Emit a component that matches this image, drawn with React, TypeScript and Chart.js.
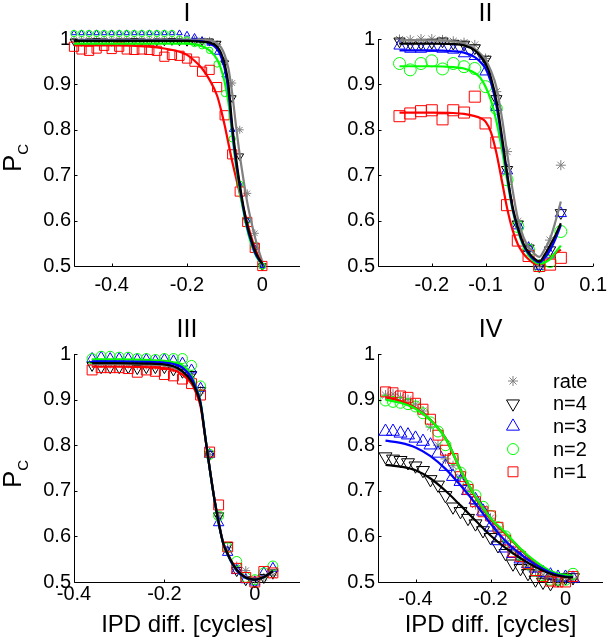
import React, { useEffect, useRef } from 'react';
import { Chart, registerables } from 'chart.js';
import { drawPoint } from 'chart.js/helpers';

Chart.register(...registerables);

const FONT = '"Liberation Sans", Arial, Helvetica, sans-serif';

// ---- series names / colours ----
const SERIES_NAMES = ['rate', 'n=4', 'n=3', 'n=2', 'n=1'];
const COLORS = ['rgb(128,128,128)', '#000000', '#0000ff', '#00ff00', '#ff0000'];
const Y_TICKS = [0.5, 0.6, 0.7, 0.8, 0.9, 1];
const X_LABEL = 'IPD diff. [cycles]';

// ---- Panel I ----
const P1_X = [-0.5, -0.48, -0.46, -0.44, -0.42, -0.4, -0.38, -0.36, -0.34, -0.32, -0.3, -0.28, -0.26, -0.24, -0.22, -0.2, -0.18, -0.16, -0.14, -0.12, -0.1, -0.08, -0.06, -0.04, -0.02, 0];
const P1_RATE = [0.998, 0.998, 0.998, 0.998, 0.998, 0.998, 0.998, 0.998, 0.998, 0.998, 0.998, 0.998, 0.998, 0.998, 0.998, 0.998, 0.998, 0.997, 0.996, 0.988, 0.95, 0.903, 0.8, 0.66, 0.572, 0.5];
const P1_N4 = [0.995, 0.994, 0.995, 0.996, 0.995, 0.994, 0.995, 0.995, 0.996, 0.995, 0.994, 0.995, 0.995, 0.996, 0.995, 0.994, 0.995, 0.995, 0.995, 0.99, 0.947, 0.87, 0.742, 0.6, 0.545, 0.5];
const P1_N3 = [1.013, 1.013, 1.013, 1.013, 1.013, 1.013, 1.013, 1.013, 1.013, 1.013, 1.013, 1.013, 1.013, 1.013, 1.013, 1.01, 1.005, 0.998, 0.99, 0.97, 0.92, 0.8, 0.68, 0.6, 0.54, 0.5];
const P1_N2 = [1.012, 1.012, 1.012, 1.012, 1.012, 1.012, 1.012, 1.012, 1.012, 1.012, 1.012, 1.012, 1.012, 1.012, 1.0, 0.998, 0.99, 0.985, 0.975, 0.945, 0.88, 0.78, 0.68, 0.6, 0.545, 0.5];
const P1_N1 = [0.983, 0.977, 0.974, 0.979, 0.985, 0.978, 0.983, 0.977, 0.976, 0.977, 0.976, 0.974, 0.961, 0.965, 0.963, 0.957, 0.95, 0.928, 0.932, 0.894, 0.832, 0.746, 0.664, 0.597, 0.54, 0.5];
const P1_LX = [-0.5, -0.4, -0.3, -0.26, -0.22, -0.2, -0.18, -0.16, -0.14, -0.12, -0.11, -0.1, -0.09, -0.08, -0.07, -0.06, -0.05, -0.04, -0.03, -0.02, -0.01, 0];
const P1_L_RATE = [0.998, 0.998, 0.998, 0.998, 0.998, 0.998, 0.998, 0.998, 0.997, 0.99, 0.982, 0.965, 0.935, 0.88, 0.81, 0.745, 0.69, 0.64, 0.6, 0.565, 0.535, 0.51];
const P1_L_N4 = [0.996, 0.996, 0.996, 0.996, 0.996, 0.996, 0.995, 0.994, 0.992, 0.983, 0.97, 0.945, 0.9, 0.81, 0.74, 0.68, 0.63, 0.59, 0.56, 0.535, 0.517, 0.505];
const P1_L_N3 = [0.996, 0.996, 0.996, 0.996, 0.996, 0.996, 0.996, 0.995, 0.99, 0.978, 0.962, 0.935, 0.885, 0.8, 0.73, 0.675, 0.625, 0.585, 0.555, 0.53, 0.515, 0.505];
const P1_L_N2 = [0.99, 0.99, 0.99, 0.99, 0.99, 0.99, 0.988, 0.984, 0.975, 0.955, 0.935, 0.905, 0.86, 0.79, 0.72, 0.665, 0.62, 0.58, 0.55, 0.528, 0.513, 0.505];
const P1_L_N1 = [0.986, 0.986, 0.983, 0.979, 0.972, 0.965, 0.952, 0.935, 0.91, 0.875, 0.845, 0.81, 0.77, 0.73, 0.695, 0.66, 0.627, 0.595, 0.566, 0.54, 0.52, 0.505];
const P1_XTICKS = [-0.4, -0.2, 0];

// ---- Panel II ----
const P2_X = [-0.26, -0.24, -0.22, -0.2, -0.18, -0.16, -0.14, -0.12, -0.1, -0.08, -0.06, -0.04, -0.02, 0, 0.02, 0.04];
const P2_RATE = [0.999, 0.998, 1.0, 1.0, 0.998, 0.995, 0.992, 0.987, 0.957, 0.884, 0.752, 0.598, 0.543, 0.5, 0.557, 0.722];
const P2_N4 = [0.995, 0.99, 0.99, 0.992, 0.995, 0.99, 0.988, 0.98, 0.955, 0.868, 0.712, 0.592, 0.539, 0.5, 0.535, 0.617];
const P2_N3 = [0.985, 0.978, 0.978, 0.98, 0.978, 0.976, 0.968, 0.962, 0.928, 0.85, 0.71, 0.589, 0.539, 0.5, 0.525, 0.616];
const P2_N2 = [0.946, 0.932, 0.946, 0.952, 0.934, 0.946, 0.939, 0.935, 0.895, 0.847, 0.69, 0.587, 0.535, 0.5, 0.51, 0.576];
const P2_N1 = [0.83, 0.836, 0.841, 0.843, 0.823, 0.843, 0.838, 0.873, 0.814, 0.772, 0.634, 0.556, 0.522, 0.5, 0.503, 0.518];
const P2_LX = [-0.26, -0.2, -0.16, -0.14, -0.12, -0.11, -0.1, -0.09, -0.08, -0.07, -0.06, -0.05, -0.04, -0.03, -0.02, -0.01, 0, 0.01, 0.02, 0.03, 0.04];
const P2_L_RATE = [0.997, 0.997, 0.995, 0.99, 0.978, 0.968, 0.954, 0.93, 0.895, 0.83, 0.75, 0.67, 0.605, 0.565, 0.542, 0.528, 0.52, 0.537, 0.56, 0.598, 0.642];
const P2_L_N4 = [0.99, 0.99, 0.989, 0.986, 0.975, 0.963, 0.946, 0.915, 0.865, 0.79, 0.705, 0.632, 0.585, 0.55, 0.53, 0.517, 0.51, 0.525, 0.545, 0.568, 0.594];
const P2_L_N3 = [0.975, 0.975, 0.973, 0.97, 0.96, 0.95, 0.935, 0.905, 0.855, 0.78, 0.7, 0.628, 0.582, 0.548, 0.527, 0.514, 0.508, 0.518, 0.535, 0.56, 0.59];
const P2_L_N2 = [0.94, 0.94, 0.938, 0.935, 0.925, 0.915, 0.895, 0.865, 0.82, 0.76, 0.69, 0.625, 0.578, 0.545, 0.524, 0.51, 0.505, 0.508, 0.515, 0.53, 0.545];
const P2_L_N1 = [0.838, 0.838, 0.837, 0.835, 0.83, 0.826, 0.818, 0.795, 0.75, 0.69, 0.628, 0.58, 0.548, 0.528, 0.515, 0.506, 0.503, 0.508, 0.517, 0.528, 0.536];
const P2_XTICKS = [-0.2, -0.1, 0, 0.1];

// ---- Panel III ----
const P3_X = [-0.36, -0.34, -0.32, -0.3, -0.28, -0.26, -0.24, -0.22, -0.2, -0.18, -0.16, -0.14, -0.12, -0.1, -0.08, -0.06, -0.04, -0.02, 0, 0.02, 0.04];
const P3_RATE = [0.98, 0.98, 0.978, 0.98, 0.978, 0.975, 0.976, 0.975, 0.975, 0.97, 0.965, 0.955, 0.92, 0.78, 0.645, 0.575, 0.535, 0.525, 0.505, 0.51, 0.515];
const P3_N4 = [0.975, 0.97, 0.97, 0.97, 0.97, 0.968, 0.97, 0.97, 0.97, 0.965, 0.96, 0.955, 0.92, 0.78, 0.645, 0.58, 0.525, 0.505, 0.5, 0.51, 0.52];
const P3_N3 = [0.99, 0.993, 0.99, 0.99, 0.99, 0.988, 0.988, 0.985, 0.988, 0.985, 0.98, 0.965, 0.925, 0.78, 0.63, 0.565, 0.525, 0.505, 0.5, 0.52, 0.53];
const P3_N2 = [0.99, 0.995, 0.995, 0.993, 0.993, 0.99, 0.99, 0.988, 0.99, 0.99, 0.99, 0.975, 0.93, 0.78, 0.645, 0.575, 0.545, 0.51, 0.505, 0.52, 0.535];
const P3_N1 = [0.965, 0.97, 0.97, 0.97, 0.968, 0.96, 0.965, 0.962, 0.955, 0.952, 0.945, 0.935, 0.91, 0.785, 0.669, 0.577, 0.53, 0.51, 0.5, 0.523, 0.52];
const P3_LX = [-0.36, -0.3, -0.24, -0.2, -0.18, -0.16, -0.14, -0.13, -0.12, -0.11, -0.1, -0.09, -0.08, -0.07, -0.06, -0.05, -0.04, -0.03, -0.02, -0.01, 0, 0.01, 0.02, 0.03, 0.04];
const P3_L_RATE = [0.978, 0.978, 0.977, 0.975, 0.971, 0.96, 0.94, 0.92, 0.89, 0.82, 0.75, 0.685, 0.63, 0.586, 0.562, 0.542, 0.528, 0.518, 0.511, 0.508, 0.506, 0.508, 0.512, 0.518, 0.525];
const P3_L_N4 = [0.98, 0.98, 0.979, 0.977, 0.973, 0.962, 0.94, 0.92, 0.89, 0.82, 0.75, 0.685, 0.63, 0.585, 0.562, 0.542, 0.527, 0.517, 0.51, 0.507, 0.505, 0.507, 0.511, 0.517, 0.524];
const P3_L_N3 = [0.984, 0.984, 0.983, 0.981, 0.978, 0.97, 0.948, 0.925, 0.893, 0.822, 0.75, 0.685, 0.63, 0.585, 0.56, 0.54, 0.525, 0.515, 0.509, 0.506, 0.505, 0.507, 0.511, 0.517, 0.524];
const P3_L_N2 = [0.988, 0.988, 0.987, 0.985, 0.982, 0.975, 0.952, 0.928, 0.895, 0.823, 0.75, 0.685, 0.63, 0.585, 0.56, 0.54, 0.525, 0.515, 0.509, 0.506, 0.505, 0.507, 0.511, 0.517, 0.524];
const P3_L_N1 = [0.972, 0.972, 0.971, 0.969, 0.965, 0.955, 0.935, 0.915, 0.885, 0.82, 0.752, 0.687, 0.632, 0.587, 0.562, 0.542, 0.527, 0.517, 0.51, 0.507, 0.505, 0.507, 0.511, 0.517, 0.524];
const P3_XTICKS = [-0.4, -0.2, 0];

// ---- Panel IV ----
const P4_X = [-0.48, -0.46, -0.44, -0.42, -0.4, -0.38, -0.36, -0.34, -0.32, -0.3, -0.28, -0.26, -0.24, -0.22, -0.2, -0.18, -0.16, -0.14, -0.12, -0.1, -0.08, -0.06, -0.04, -0.02, 0, 0.02];
const P4_RATE = [0.91, 0.912, 0.905, 0.9, 0.89, 0.875, 0.84, 0.8, 0.77, 0.755, 0.73, 0.7, 0.67, 0.66, 0.64, 0.615, 0.59, 0.57, 0.555, 0.535, 0.525, 0.515, 0.51, 0.505, 0.51, 0.505];
const P4_N4 = [0.775, 0.77, 0.767, 0.762, 0.755, 0.745, 0.725, 0.713, 0.69, 0.665, 0.655, 0.64, 0.628, 0.613, 0.598, 0.58, 0.563, 0.54, 0.53, 0.519, 0.505, 0.5, 0.497, 0.505, 0.51, 0.51];
const P4_N3 = [0.83, 0.83, 0.826, 0.822, 0.815, 0.808, 0.8, 0.782, 0.753, 0.731, 0.72, 0.7, 0.68, 0.655, 0.62, 0.59, 0.574, 0.562, 0.55, 0.54, 0.53, 0.52, 0.515, 0.51, 0.51, 0.508];
const P4_N2 = [0.898, 0.895, 0.893, 0.89, 0.885, 0.87, 0.85, 0.83, 0.8, 0.77, 0.74, 0.71, 0.69, 0.665, 0.645, 0.62, 0.6, 0.575, 0.56, 0.54, 0.525, 0.515, 0.505, 0.505, 0.505, 0.518];
const P4_N1 = [0.917, 0.915, 0.908, 0.905, 0.892, 0.879, 0.857, 0.822, 0.789, 0.771, 0.731, 0.703, 0.676, 0.654, 0.645, 0.62, 0.592, 0.566, 0.556, 0.54, 0.525, 0.512, 0.502, 0.5, 0.5, 0.512];
const P4_LX = [-0.48, -0.44, -0.4, -0.36, -0.32, -0.28, -0.24, -0.2, -0.16, -0.12, -0.08, -0.04, 0, 0.02];
const P4_L_RATE = [0.905, 0.897, 0.882, 0.856, 0.816, 0.748, 0.688, 0.64, 0.606, 0.571, 0.543, 0.523, 0.514, 0.513];
const P4_L_N4 = [0.757, 0.753, 0.745, 0.727, 0.7, 0.668, 0.635, 0.602, 0.575, 0.552, 0.533, 0.518, 0.511, 0.51];
const P4_L_N3 = [0.81, 0.805, 0.795, 0.776, 0.748, 0.712, 0.672, 0.628, 0.59, 0.561, 0.538, 0.521, 0.512, 0.511];
const P4_L_N2 = [0.9, 0.893, 0.88, 0.855, 0.815, 0.746, 0.687, 0.64, 0.608, 0.573, 0.545, 0.524, 0.515, 0.514];
const P4_L_N1 = [0.905, 0.897, 0.882, 0.855, 0.815, 0.745, 0.685, 0.638, 0.606, 0.572, 0.543, 0.523, 0.514, 0.513];
const P4_XTICKS = [-0.4, -0.2, 0];

// ---- styles ----
const POINT_STYLES = ['star', 'triangle', 'triangle', 'circle', 'rect'];
const POINT_ROT = [0, 180, 0, 0, 0];
const LINE_ORDER = [4, 0, 1, 2, 3];

type PanelDef = {
  key: string;
  title: string;
  area: [number, number, number, number]; // left, pixel of y=1, right, bottom
  xMin: number;
  xMax: number;
  xTicks: number[];
  mx: number[];
  markers: number[][];
  lx: number[];
  lines: number[][];
  sizes: number[];
  xPad: number;
  titleY: number;
  yLabelPos: [number, number] | null;
  xLabel: boolean;
  legend: boolean;
};

const PANELS: PanelDef[] = [
  {
    key: 'I', title: 'I', area: [74, 39, 300, 266], xMin: -0.5, xMax: 0.1, xTicks: P1_XTICKS,
    mx: P1_X, markers: [P1_RATE, P1_N4, P1_N3, P1_N2, P1_N1],
    lx: P1_LX, lines: [P1_L_RATE, P1_L_N4, P1_L_N3, P1_L_N2, P1_L_N1],
    sizes: [4, 4.5, 3.2, 3.2, 6.5], xPad: 7, titleY: 21, yLabelPos: [21, 172], xLabel: false, legend: false,
  },
  {
    key: 'II', title: 'II', area: [378, 39, 603, 266], xMin: -0.3, xMax: 0.1, xTicks: P2_XTICKS,
    mx: P2_X, markers: [P2_RATE, P2_N4, P2_N3, P2_N2, P2_N1],
    lx: P2_LX, lines: [P2_L_RATE, P2_L_N4, P2_L_N3, P2_L_N2, P2_L_N1],
    sizes: [5, 6.5, 6.5, 6, 7.8], xPad: 7, titleY: 21, yLabelPos: null, xLabel: false, legend: false,
  },
  {
    key: 'III', title: 'III', area: [74, 354, 300, 582], xMin: -0.4, xMax: 0.1, xTicks: P3_XTICKS,
    mx: P3_X, markers: [P3_RATE, P3_N4, P3_N3, P3_N2, P3_N1],
    lx: P3_LX, lines: [P3_L_RATE, P3_L_N4, P3_L_N3, P3_L_N2, P3_L_N1],
    sizes: [4.5, 6, 6, 5, 7], xPad: 0, titleY: 337, yLabelPos: [21, 488], xLabel: true, legend: false,
  },
  {
    key: 'IV', title: 'IV', area: [378, 354, 603, 582], xMin: -0.5, xMax: 0.1, xTicks: P4_XTICKS,
    mx: P4_X, markers: [P4_RATE, P4_N4, P4_N3, P4_N2, P4_N1],
    lx: P4_LX, lines: [P4_L_RATE, P4_L_N4, P4_L_N3, P4_L_N2, P4_L_N1],
    sizes: [5, 7.5, 7.5, 5.5, 7], xPad: 5, titleY: 337, yLabelPos: null, xLabel: true, legend: true,
  },
];

const W = 614;
const H = 640;
const YW = 60;
const XH = 46;
const Y_MIN = 0.5;
const Y_MAX = 1.03; // a little head-room so markers drawn above 1 are not dropped
const LEGEND_SIZES = [5, 7.5, 7.5, 5.5, 7];

const fmt = (v: number) => String(Math.round(v * 10) / 10);

function Panel({ def }: { def: PanelDef }) {
  const ref = useRef<HTMLCanvasElement>(null);
  useEffect(() => {
    const canvas = ref.current;
    if (!canvas) return;
    const [L, top1, R, B] = def.area;
    // chart-area top so that y = 1 lands on top1
    const T = B - ((B - top1) * (Y_MAX - Y_MIN)) / (1 - Y_MIN);
    const datasets: any[] = [];
    def.lines.forEach((ly, k) => {
      datasets.push({
        label: SERIES_NAMES[k] + ' fit',
        data: def.lx.map((x, i) => ({ x, y: ly[i] })),
        showLine: true,
        pointRadius: 0,
        borderColor: COLORS[k],
        borderWidth: 2.2,
        cubicInterpolationMode: 'monotone',
        fill: false,
        clip: false,
        order: LINE_ORDER[k],
      });
    });
    def.markers.forEach((my, k) => {
      datasets.push({
        label: SERIES_NAMES[k],
        data: def.mx.map((x, i) => ({ x, y: my[i] })),
        showLine: false,
        pointStyle: POINT_STYLES[k],
        pointRotation: POINT_ROT[k],
        pointRadius: def.sizes[k],
        pointBorderColor: COLORS[k],
        pointBackgroundColor: 'rgba(0,0,0,0)',
        pointBorderWidth: 1,
        clip: false,
        order: 14 - k,
      });
    });

    const decor = {
      id: 'decor' + def.key,
      beforeDatasetsDraw(chart: any) {
        const ctx = chart.ctx as CanvasRenderingContext2D;
        const ys = chart.scales.y;
        const ca = chart.chartArea;
        const yTop = Math.round(ys.getPixelForValue(1));
        const xl = Math.round(ca.left) + 0.5;
        const yb = Math.round(ca.bottom) + 0.5;
        ctx.save();
        ctx.strokeStyle = '#000';
        ctx.lineWidth = 1;
        ctx.beginPath();
        ctx.moveTo(xl, yTop);
        ctx.lineTo(xl, yb);
        ctx.lineTo(Math.round(ca.right), yb);
        ctx.stroke();
        ctx.restore();
      },
      afterDraw(chart: any) {
        const ctx = chart.ctx as CanvasRenderingContext2D;
        const xs = chart.scales.x;
        const ys = chart.scales.y;
        const ca = chart.chartArea;
        ctx.save();
        ctx.strokeStyle = '#000';
        ctx.lineWidth = 1;
        ctx.beginPath();
        const xl = Math.round(ca.left) + 0.5;
        const yb = Math.round(ca.bottom) + 0.5;
        for (const v of def.xTicks) {
          const px = Math.round(xs.getPixelForValue(v)) + 0.5;
          ctx.moveTo(px, yb);
          ctx.lineTo(px, yb - 3);
        }
        for (const v of Y_TICKS) {
          const py = Math.round(ys.getPixelForValue(v)) + 0.5;
          ctx.moveTo(xl, py);
          ctx.lineTo(xl + 3, py);
        }
        ctx.stroke();

        ctx.fillStyle = '#000';
        ctx.textAlign = 'center';
        ctx.textBaseline = 'alphabetic';
        ctx.font = `25px ${FONT}`;
        ctx.fillText(def.title, (ca.left + ca.right) / 2, def.titleY);

        if (def.xLabel) {
          ctx.font = `24px ${FONT}`;
          ctx.fillText(X_LABEL, (ca.left + ca.right) / 2, 632);
        }

        if (def.yLabelPos) {
          ctx.save();
          ctx.translate(def.yLabelPos[0], def.yLabelPos[1]);
          ctx.rotate(-Math.PI / 2);
          ctx.textAlign = 'left';
          ctx.font = `26px ${FONT}`;
          ctx.fillText('P', 0, 0);
          const w = ctx.measureText('P').width;
          ctx.font = `15px ${FONT}`;
          ctx.fillText('C', w, 7);
          ctx.restore();
        }

        if (def.legend) {
          const mxp = 513;
          const tx = 553;
          const y0 = 381;
          const dy = 22.7;
          SERIES_NAMES.forEach((name, k) => {
            const yy = y0 + dy * k;
            ctx.strokeStyle = COLORS[k];
            ctx.fillStyle = 'rgba(0,0,0,0)';
            ctx.lineWidth = 1;
            drawPoint(ctx, { pointStyle: POINT_STYLES[k], rotation: POINT_ROT[k], radius: LEGEND_SIZES[k], borderWidth: 1 } as any, mxp, yy);
            ctx.fillStyle = '#000';
            ctx.textAlign = 'left';
            ctx.textBaseline = 'middle';
            ctx.font = `20px ${FONT}`;
            ctx.fillText(name, tx, yy + 1);
          });
        }
        ctx.restore();
      },
    };

    const tickFont = { family: FONT, size: 20 };
    const chart = new Chart(canvas, {
      type: 'scatter',
      data: { datasets },
      options: {
        responsive: false,
        animation: false,
        events: [],
        layout: { padding: { left: L - YW, top: T, right: W - R, bottom: H - B - XH } },
        plugins: { legend: { display: false }, tooltip: { enabled: false }, title: { display: false } },
        scales: {
          x: {
            type: 'linear',
            position: 'bottom',
            min: def.xMin,
            max: def.xMax,
            afterBuildTicks: (s: any) => { s.ticks = def.xTicks.map((v) => ({ value: v })); },
            afterFit: (s: any) => { s.height = XH; },
            grid: { display: false, drawTicks: false },
            border: { display: false },
            ticks: { autoSkip: false, maxRotation: 0, minRotation: 0, padding: def.xPad, font: tickFont, color: '#000', callback: (v: any) => fmt(Number(v)) },
          },
          y: {
            type: 'linear',
            position: 'left',
            min: Y_MIN,
            max: Y_MAX,
            afterBuildTicks: (s: any) => { s.ticks = Y_TICKS.map((v) => ({ value: v })); },
            afterFit: (s: any) => { s.width = YW; },
            grid: { display: false, drawTicks: false },
            border: { display: false },
            ticks: { autoSkip: false, padding: 3, font: tickFont, color: '#000', callback: (v: any) => fmt(Number(v)) },
          },
        },
      } as any,
      plugins: [decor],
    });
    return () => chart.destroy();
  }, []);
  return (
    <canvas
      ref={ref}
      width={W}
      height={H}
      style={{ position: 'absolute', left: 0, top: 0, width: W + 'px', height: H + 'px' }}
    />
  );
}

export default function App() {
  return (
    <div style={{ position: 'absolute', left: 0, top: 0, width: W, height: H, background: '#fff', overflow: 'hidden' }}>
      {PANELS.map((p) => (
        <Panel key={p.key} def={p} />
      ))}
    </div>
  );
}
